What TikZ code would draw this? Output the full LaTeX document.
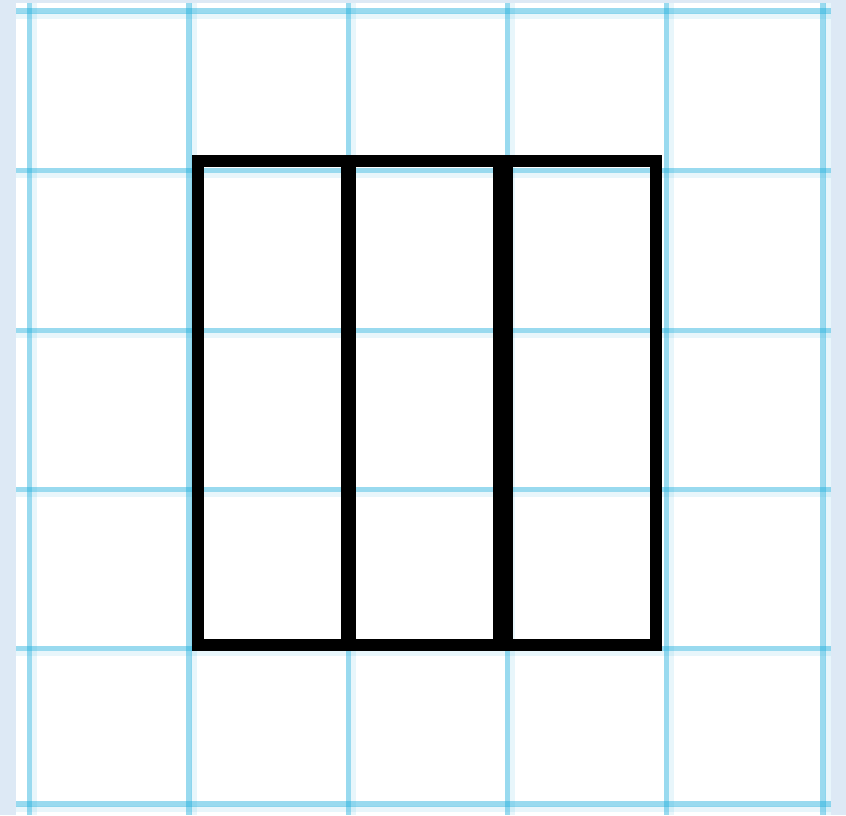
\documentclass[tikz,border=0pt]{standalone}
\definecolor{pagebg}{HTML}{DDE9F5}
\definecolor{gridc}{RGB}{30,175,220}
\tikzset{
  gridmain/.style={draw=gridc, draw opacity=0.45, line width=2.6pt},
  gridfaint/.style={draw=gridc, draw opacity=0.10, line width=2.8pt},
  box/.style={draw=black, line width=6pt, line join=miter}
}
\begin{document}
\begin{tikzpicture}[x=0.5pt,y=-0.5pt]
  \useasboundingbox (0,0) rectangle (846,815);
  \fill[pagebg] (0,0) rectangle (846,815);
  \fill[white] (16,3) rectangle (831,815);
  % faint companion bands
  \foreach \x in {34.5,194,353.5,512.5,671.5,828} {
    \draw[gridfaint] (\x,3) -- (\x,815);
  }
  \foreach \y in {16,175.5,335.5,494.5,653.5,809} {
    \draw[gridfaint] (16,\y) -- (831,\y);
  }
  % main grid lines
  \foreach \x in {29.5,189,348.5,507.5,666.5,823} {
    \draw[gridmain] (\x,3) -- (\x,815);
  }
  \foreach \y in {11,170.5,330.5,489.5,648.5,804} {
    \draw[gridmain] (16,\y) -- (831,\y);
  }
  % three rectangles
  \draw[box] (198,161) rectangle (347,645);
  \draw[box] (350,161) rectangle (499,645);
  \draw[box] (507,161) rectangle (656,645);
\end{tikzpicture}
\end{document}
